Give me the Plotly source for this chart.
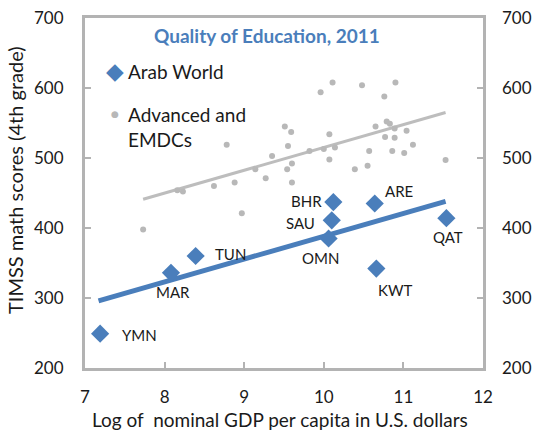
import plotly.graph_objects as go

# Arab World countries
arab_codes = ["YMN", "MAR", "TUN", "BHR", "ARE", "SAU", "OMN", "KWT", "QAT"]
arab_gdp = [7.19, 8.08, 8.39, 10.12, 10.64, 10.10, 10.06, 10.66, 11.54]
arab_score = [249, 336, 360, 437, 435, 411, 385, 342, 414]

# Arab World trend line end points
arab_trend_x = [7.17, 11.53]
arab_trend_y = [296, 438]

# Advanced and EMDCs
adv_gdp = [7.73, 8.16, 8.23, 8.62, 8.78, 8.88, 8.97, 9.14, 9.27, 9.35,
           9.51, 9.55, 9.54, 9.59, 9.60, 9.60, 9.82, 9.96, 10.00, 10.07,
           10.07, 10.11, 10.14, 10.39, 10.48, 10.55, 10.57, 10.65, 10.76, 10.77,
           10.79, 10.83, 10.86, 10.89, 10.89, 10.90, 11.01, 11.04, 11.12, 11.53]
adv_score = [398, 454, 452, 460, 519, 465, 421, 484, 471, 503,
             545, 517, 484, 537, 492, 465, 510, 594, 513, 534,
             498, 608, 515, 484, 604, 489, 510, 545, 588, 530,
             552, 549, 510, 542, 529, 608, 507, 539, 519, 497]

adv_trend_x = [7.73, 11.53]
adv_trend_y = [441, 565]

# Label placement (anchor, pixel offsets)
label_pos = {
    "YMN": ("left", 20, -1),
    "MAR": ("center", 2, -19),
    "TUN": ("left", 17, 2),
    "BHR": ("right", -9, 1),
    "ARE": ("left", 8, 13),
    "SAU": ("right", -15, -3),
    "OMN": ("center", -8, -19),
    "KWT": ("center", 19, -21),
    "QAT": ("center", 2, -19),
}

x_ticks = [7, 8, 9, 10, 11, 12]
y_ticks = [200, 300, 400, 500, 600, 700]

BLUE = "#4a7ebb"
GREY = "#b8b8b8"
AXIS = "#b3b3b3"
FONT = "Lato"
TXT = "#1a1a1a"

fig = go.Figure()

fig.add_trace(go.Scatter(x=adv_trend_x, y=adv_trend_y, mode="lines",
                         line=dict(color="#bdbdbd", width=3), showlegend=False,
                         hoverinfo="skip"))
fig.add_trace(go.Scatter(x=adv_gdp, y=adv_score, mode="markers",
                         marker=dict(color=GREY, size=6), showlegend=False,
                         name="Advanced and EMDCs"))
fig.add_trace(go.Scatter(x=arab_trend_x, y=arab_trend_y, mode="lines",
                         line=dict(color=BLUE, width=5), showlegend=False,
                         hoverinfo="skip"))
fig.add_trace(go.Scatter(x=arab_gdp, y=arab_score, mode="markers",
                         marker=dict(color=BLUE, size=14, symbol="diamond"),
                         showlegend=False, name="Arab World"))
fig.add_trace(go.Scatter(x=[], y=[], yaxis="y2", showlegend=False))

W, H = 534, 434
L, R, T, B = 85, 51, 18, 66
pw, ph = W - L - R, H - T - B


def px2paper(px, py):
    return (px - L) / pw, (H - B - py) / ph


annotations = []
for code, gx, sc in zip(arab_codes, arab_gdp, arab_score):
    anc, dx, dy = label_pos[code]
    annotations.append(dict(x=gx, y=sc, xref="x", yref="y", text=code,
                            showarrow=False, xanchor=anc, yanchor="middle",
                            xshift=dx, yshift=dy,
                            font=dict(family=FONT, size=15, color=TXT)))


def paper_note(text, px, py, size, color=TXT, xanchor="center", family=FONT,
               angle=0, align="center"):
    xx, yy = px2paper(px, py)
    annotations.append(dict(x=xx, y=yy, xref="paper", yref="paper", text=text,
                            showarrow=False, xanchor=xanchor, yanchor="middle",
                            textangle=angle, align=align,
                            font=dict(family=family, size=size, color=color)))


# Title
paper_note("<b>Quality of Education, 2011</b>", 267, 36, 19, BLUE)
# Legend (manual)
paper_note("◆", 115, 71, 23, BLUE, family="DejaVu Sans")
paper_note("Arab World", 126, 71, 19, xanchor="left")
paper_note("●", 115, 114, 9, GREY, family="DejaVu Sans")
paper_note("Advanced and<br>EMDCs", 126, 127, 19, xanchor="left", align="left")
# Axis titles
paper_note("Log of  nominal GDP per capita in U.S. dollars", 280, 419, 19)
paper_note("TIMSS math scores (4th grade)", 15, 180, 20, angle=-90)

fig.update_layout(
    width=W, height=H,
    margin=dict(l=L, r=R, t=T, b=B, autoexpand=False),
    plot_bgcolor="white", paper_bgcolor="white",
    font=dict(family=FONT, size=17, color=TXT),
    annotations=annotations,
    xaxis=dict(range=[7, 12], tickvals=x_ticks, ticks="inside", ticklen=6,
               tickcolor=AXIS, tickwidth=2, showline=True, linecolor=AXIS,
               linewidth=3, mirror=True, showgrid=False, zeroline=False,
               ticklabelstandoff=12, automargin=False),
    yaxis=dict(range=[200, 700], tickvals=y_ticks, ticks="inside", ticklen=6,
               tickcolor=AXIS, tickwidth=2, showline=True, linecolor=AXIS,
               linewidth=3, mirror="ticks", showgrid=False, zeroline=False,
               ticklabelstandoff=15, automargin=False),
    yaxis2=dict(range=[200, 700], tickvals=y_ticks, overlaying="y", side="right",
                ticks="", showline=False, showgrid=False, zeroline=False,
                ticklabelstandoff=18, automargin=False),
)

fig.write_html("out.html",
               config={"displayModeBar": False},
               post_script="document.body.style.margin='0';")
